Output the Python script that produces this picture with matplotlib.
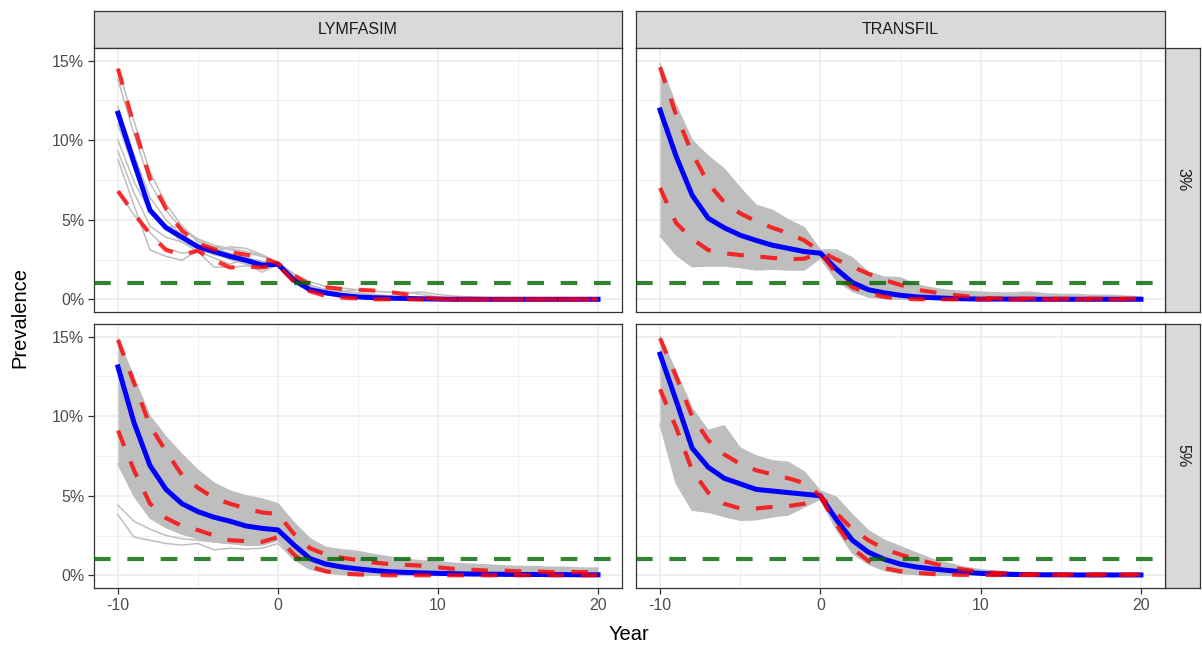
import numpy as np
import matplotlib.pyplot as plt
from matplotlib.ticker import FixedLocator, FuncFormatter

plt.rcParams['font.family'] = ['Liberation Sans', 'DejaVu Sans']
plt.rcParams['axes.unicode_minus'] = False

years = list(range(-10, 21))
models = ['LYMFASIM', 'TRANSFIL']
baselines = ['3%', '5%']
threshold = 1.0

# ---- LYMFASIM, 3% baseline ----
lym3_med = [11.7, 8.6, 5.6, 4.5, 3.9, 3.3, 3.0, 2.7, 2.45, 2.15, 2.2, 1.2, 0.6, 0.4, 0.25, 0.15,
            0.1, 0.07, 0.05, 0.03, 0.01, 0.0, 0.0, 0.0, 0.0, 0.0, 0.0, 0.0, 0.0, 0.0, 0.0]
lym3_hi = [14.5, 10.9, 7.6, 5.7, 4.3, 3.5, 3.15, 2.95, 2.8, 2.6, 2.25, 1.5, 0.9, 0.75, 0.65, 0.6,
           0.55, 0.45, 0.3, 0.1, 0.02, 0.0, 0.0, 0.0, 0.0, 0.0, 0.0, 0.0, 0.0, 0.0, 0.0]
lym3_lo = [6.8, 5.4, 4.1, 3.1, 2.8, 3.05, 2.45, 2.0, 2.05, 2.0, 2.15, 1.1, 0.5, 0.2, 0.1, 0.05,
           0.0, 0.0, 0.0, 0.0, 0.0, 0.0, 0.0, 0.0, 0.0, 0.0, 0.0, 0.0, 0.0, 0.0, 0.0]
lym3_runs = [
    [14.5, 11.2, 8.0, 6.0, 4.6, 3.7, 3.3, 3.1, 2.9, 2.7, 2.3, 1.6, 1.1, 0.8, 0.7, 0.6,
     0.5, 0.45, 0.46, 0.3, 0.15, 0.05, 0.03, 0.02, 0.01, 0.0, 0.0, 0.0, 0.0, 0.0, 0.0],
    [13.8, 10.4, 7.3, 5.6, 4.4, 3.8, 3.4, 3.2, 3.0, 2.8, 2.3, 1.5, 0.9, 0.6, 0.5, 0.4,
     0.3, 0.2, 0.1, 0.05, 0.02, 0.0, 0.0, 0.0, 0.0, 0.0, 0.0, 0.0, 0.0, 0.0, 0.0],
    [12.1, 9.1, 6.4, 5.0, 4.0, 3.3, 3.0, 3.3, 3.2, 2.8, 2.3, 1.3, 0.8, 0.6, 0.5, 0.6,
     0.5, 0.45, 0.4, 0.45, 0.3, 0.2, 0.15, 0.1, 0.05, 0.0, 0.0, 0.0, 0.0, 0.0, 0.0],
    [10.0, 7.4, 5.5, 4.5, 3.6, 3.0, 2.6, 2.2, 2.6, 2.4, 2.1, 1.3, 0.8, 0.6, 0.5, 0.4,
     0.3, 0.2, 0.1, 0.05, 0.0, 0.0, 0.0, 0.0, 0.0, 0.0, 0.0, 0.0, 0.0, 0.0, 0.0],
    [9.3, 6.7, 4.6, 3.9, 3.6, 3.2, 2.8, 2.6, 2.3, 1.7, 2.2, 1.2, 0.6, 0.4, 0.25, 0.15,
     0.1, 0.05, 0.0, 0.0, 0.0, 0.0, 0.0, 0.0, 0.0, 0.0, 0.0, 0.0, 0.0, 0.0, 0.0],
    [8.8, 5.9, 3.1, 2.7, 2.45, 3.1, 2.9, 2.5, 2.2, 2.0, 2.2, 1.3, 0.7, 0.5, 0.3, 0.2,
     0.1, 0.0, 0.0, 0.0, 0.0, 0.0, 0.0, 0.0, 0.0, 0.0, 0.0, 0.0, 0.0, 0.0, 0.0],
    [6.8, 5.3, 4.2, 3.2, 2.9, 3.0, 2.03, 2.0, 2.1, 2.0, 2.15, 1.2, 0.55, 0.3, 0.15, 0.05,
     0.0, 0.0, 0.0, 0.0, 0.0, 0.0, 0.0, 0.0, 0.0, 0.0, 0.0, 0.0, 0.0, 0.0, 0.0],
    [11.0, 8.2, 5.8, 4.55, 4.55, 3.6, 3.2, 2.9, 2.6, 2.3, 2.2, 1.4, 0.7, 0.45, 0.3, 0.2,
     0.1, 0.0, 0.0, 0.0, 0.0, 0.0, 0.0, 0.0, 0.0, 0.0, 0.0, 0.0, 0.0, 0.0, 0.0],
]

# ---- TRANSFIL, 3% baseline ----
tr3_med = [11.9, 9.0, 6.55, 5.1, 4.5, 4.03, 3.7, 3.4, 3.2, 3.0, 2.9, 1.9, 1.05, 0.6, 0.4, 0.25,
           0.15, 0.1, 0.06, 0.03, 0.01, 0.01, 0.01, 0.0, 0.0, 0.0, 0.0, 0.0, 0.0, 0.0, 0.0]
tr3_hi = [14.6, 11.6, 9.2, 7.3, 6.1, 5.4, 4.9, 4.5, 4.15, 3.7, 3.0, 2.5, 2.05, 1.6, 1.2, 0.9,
          0.6, 0.45, 0.3, 0.2, 0.1, 0.05, 0.05, 0.04, 0.04, 0.03, 0.03, 0.03, 0.03, 0.03, 0.03]
tr3_lo = [7.0, 4.8, 3.8, 3.1, 2.9, 2.78, 2.7, 2.6, 2.52, 2.55, 2.95, 1.6, 0.75, 0.4, 0.15, 0.05,
          0.0, 0.0, 0.0, 0.0, 0.0, 0.0, 0.0, 0.0, 0.0, 0.0, 0.0, 0.0, 0.0, 0.0, 0.0]
tr3_env_hi = [14.8, 12.2, 10.0, 9.0, 8.2, 7.0, 5.9, 5.6, 5.0, 4.5, 3.1, 3.1, 2.6, 1.7, 1.4, 1.35,
              0.9, 0.7, 0.55, 0.5, 0.45, 0.4, 0.4, 0.45, 0.35, 0.3, 0.3, 0.25, 0.25, 0.2, 0.15]
tr3_env_lo = [4.0, 2.8, 2.05, 2.1, 2.1, 2.0, 1.85, 1.9, 1.85, 1.85, 2.6, 1.2, 0.5, 0.15, 0.05, 0.0,
              0.0, 0.0, 0.0, 0.0, 0.0, 0.0, 0.0, 0.0, 0.0, 0.0, 0.0, 0.0, 0.0, 0.0, 0.0]
tr3_runs = []

# ---- LYMFASIM, 5% baseline ----
lym5_med = [13.1, 9.6, 6.9, 5.4, 4.5, 4.0, 3.65, 3.4, 3.1, 2.95, 2.85, 1.9, 1.05, 0.7, 0.52, 0.4,
            0.3, 0.22, 0.18, 0.15, 0.12, 0.1, 0.08, 0.07, 0.06, 0.05, 0.05, 0.04, 0.04, 0.03, 0.03]
lym5_hi = [14.8, 12.1, 9.4, 7.8, 6.3, 5.5, 4.85, 4.5, 4.2, 3.95, 3.85, 2.6, 1.7, 1.3, 1.1, 0.95,
           0.8, 0.7, 0.65, 0.6, 0.5, 0.4, 0.35, 0.3, 0.3, 0.25, 0.25, 0.2, 0.2, 0.2, 0.2]
lym5_lo = [9.1, 6.6, 4.5, 3.6, 3.1, 2.84, 2.5, 2.2, 2.15, 2.1, 2.4, 1.3, 0.55, 0.25, 0.1, 0.05,
           0.02, 0.0, 0.0, 0.0, 0.0, 0.0, 0.0, 0.0, 0.0, 0.0, 0.0, 0.0, 0.0, 0.0, 0.0]
lym5_env_hi = [14.9, 12.4, 10.0, 8.7, 7.6, 6.6, 5.8, 5.3, 5.0, 4.8, 4.5, 3.3, 2.3, 1.75, 1.6, 1.5,
               1.3, 1.15, 1.0, 0.9, 0.85, 0.75, 0.7, 0.65, 0.6, 0.55, 0.55, 0.5, 0.5, 0.45, 0.45]
lym5_env_lo = [7.0, 5.0, 3.6, 3.0, 2.6, 2.3, 2.1, 2.0, 1.9, 1.9, 2.2, 1.0, 0.4, 0.15, 0.05, 0.0,
               0.0, 0.0, 0.0, 0.0, 0.0, 0.0, 0.0, 0.0, 0.0, 0.0, 0.0, 0.0, 0.0, 0.0, 0.0]
lym5_runs = [
    [4.4, 3.4, 2.9, 2.5, 2.3, 2.2, 2.1, 2.0, 2.2, 2.3, 2.5, 1.3, 0.6, 0.3, 0.15, 0.1,
     0.05, 0.0, 0.0, 0.0, 0.0, 0.0, 0.0, 0.0, 0.0, 0.0, 0.0, 0.0, 0.0, 0.0, 0.0],
    [3.8, 2.4, 2.2, 2.0, 1.9, 2.0, 1.6, 1.7, 1.65, 1.7, 2.0, 1.0, 0.4, 0.2, 0.1, 0.05,
     0.0, 0.0, 0.0, 0.0, 0.0, 0.0, 0.0, 0.0, 0.0, 0.0, 0.0, 0.0, 0.0, 0.0, 0.0],
]

# ---- TRANSFIL, 5% baseline ----
tr5_med = [13.9, 11.0, 8.0, 6.8, 6.1, 5.75, 5.4, 5.3, 5.2, 5.1, 5.0, 3.5, 2.2, 1.45, 1.0, 0.7,
           0.52, 0.4, 0.3, 0.2, 0.12, 0.08, 0.05, 0.04, 0.03, 0.03, 0.02, 0.02, 0.02, 0.02, 0.02]
tr5_hi = [14.9, 12.5, 10.0, 8.5, 7.6, 7.0, 6.6, 6.35, 6.1, 5.8, 5.0, 3.9, 2.9, 2.2, 1.65, 1.3,
          1.0, 0.75, 0.5, 0.35, 0.2, 0.15, 0.1, 0.06, 0.05, 0.05, 0.05, 0.05, 0.05, 0.05, 0.05]
tr5_lo = [11.7, 9.3, 6.6, 5.2, 4.5, 4.2, 4.2, 4.3, 4.35, 4.5, 4.95, 3.2, 1.7, 0.9, 0.45, 0.25,
          0.15, 0.08, 0.04, 0.02, 0.02, 0.02, 0.02, 0.02, 0.02, 0.02, 0.02, 0.02, 0.02, 0.02, 0.02]
tr5_env_hi = [15.0, 12.8, 10.5, 9.1, 9.4, 8.0, 7.5, 7.2, 7.1, 6.5, 5.3, 4.9, 3.8, 2.8, 2.2, 1.8,
              1.4, 1.0, 0.75, 0.5, 0.35, 0.25, 0.2, 0.15, 0.1, 0.1, 0.1, 0.1, 0.1, 0.1, 0.1]
tr5_env_lo = [9.5, 5.8, 4.1, 3.97, 3.7, 3.47, 3.5, 3.68, 3.8, 4.3, 4.8, 2.9, 1.4, 0.7, 0.3, 0.12,
              0.05, 0.0, 0.0, 0.0, 0.0, 0.0, 0.0, 0.0, 0.0, 0.0, 0.0, 0.0, 0.0, 0.0, 0.0]
tr5_runs = []

panels = {
    ('LYMFASIM', '3%'): dict(med=lym3_med, lo=lym3_lo, hi=lym3_hi, env=None, runs=lym3_runs),
    ('TRANSFIL', '3%'): dict(med=tr3_med, lo=tr3_lo, hi=tr3_hi, env=(tr3_env_lo, tr3_env_hi), runs=tr3_runs),
    ('LYMFASIM', '5%'): dict(med=lym5_med, lo=lym5_lo, hi=lym5_hi, env=(lym5_env_lo, lym5_env_hi), runs=lym5_runs),
    ('TRANSFIL', '5%'): dict(med=tr5_med, lo=tr5_lo, hi=tr5_hi, env=(tr5_env_lo, tr5_env_hi), runs=tr5_runs),
}

W, H = 1202, 647
fig = plt.figure(figsize=(W / 100, H / 100), dpi=100)


def box(x0, y0, x1, y1):
    # pixel box -> figure fraction rect
    return [x0 / W, 1 - y1 / H, (x1 - x0) / W, (y1 - y0) / H]


col_px = [(94, 622), (636, 1165)]
row_px = [(48, 312), (324, 588)]
border = '#333333'
grey = '#BEBEBE'

for j, model in enumerate(models):
    sx = fig.add_axes(box(col_px[j][0], 11, col_px[j][1], 48))
    sx.set_facecolor('#D9D9D9')
    sx.set_xticks([]); sx.set_yticks([])
    for s in sx.spines.values():
        s.set_color(border); s.set_linewidth(0.9)
    sx.text(0.5, 0.5, model, ha='center', va='center', fontsize=11.5, color='#1A1A1A',
            transform=sx.transAxes)

for i, base in enumerate(baselines):
    sy = fig.add_axes(box(1165, row_px[i][0], 1200, row_px[i][1]))
    sy.set_facecolor('#D9D9D9')
    sy.set_xticks([]); sy.set_yticks([])
    for s in sy.spines.values():
        s.set_color(border); s.set_linewidth(0.9)
    sy.text(0.5, 0.5, base, ha='center', va='center', rotation=-90, fontsize=11.5,
            color='#1A1A1A', transform=sy.transAxes)

    for j, model in enumerate(models):
        p = panels[(model, base)]
        ax = fig.add_axes(box(col_px[j][0], row_px[i][0], col_px[j][1], row_px[i][1]))
        ax.set_xlim(-11.5, 21.5)
        ax.set_ylim(-0.8, 15.8)
        ax.xaxis.set_major_locator(FixedLocator([-10, 0, 10, 20]))
        ax.xaxis.set_minor_locator(FixedLocator([-5, 5, 15]))
        ax.yaxis.set_major_locator(FixedLocator([0, 5, 10, 15]))
        ax.yaxis.set_minor_locator(FixedLocator([2.5, 7.5, 12.5]))
        ax.grid(which='major', color='#EBEBEB', lw=1.1)
        ax.grid(which='minor', color='#EBEBEB', lw=0.55)
        ax.set_axisbelow(True)
        for s in ax.spines.values():
            s.set_color(border); s.set_linewidth(0.9)
        ax.tick_params(which='minor', length=0)
        ax.tick_params(which='major', length=4, width=0.9, color=border,
                       labelsize=11.5, labelcolor='#4D4D4D', pad=3)
        ax.yaxis.set_major_formatter(FuncFormatter(lambda v, _: f'{v:.0f}%'))
        if j > 0:
            ax.tick_params(axis='y', length=0, labelleft=False)
        if i == 0:
            ax.tick_params(axis='x', length=0, labelbottom=False)

        if p['env'] is not None:
            env_lo, env_hi = p['env']
            ax.fill_between(years, env_lo, env_hi, color=grey, lw=0, zorder=2)
            ax.plot(years, env_lo, color=grey, lw=1.1, zorder=2)
            ax.plot(years, env_hi, color=grey, lw=1.1, zorder=2)
        for run in p['runs']:
            ax.plot(years, run, color=grey, lw=1.1, zorder=2)

        ax.plot(years, p['med'], color='blue', lw=3.6, zorder=3, solid_joinstyle='round')
        for q in (p['lo'], p['hi']):
            ax.plot(years, q, color='red', alpha=0.8, lw=3.0, dashes=(4, 4), zorder=4)
        ax.axhline(threshold, color='darkgreen', alpha=0.8, lw=3.0, dashes=(4, 4), zorder=5)

fig.text(629 / W, 1 - 634 / H, 'Year', ha='center', va='center', fontsize=14.5)
fig.text(20 / W, 1 - 318 / H, 'Prevalence', ha='center', va='center', rotation=90, fontsize=14.5)

fig.savefig('out.png', dpi=100)
